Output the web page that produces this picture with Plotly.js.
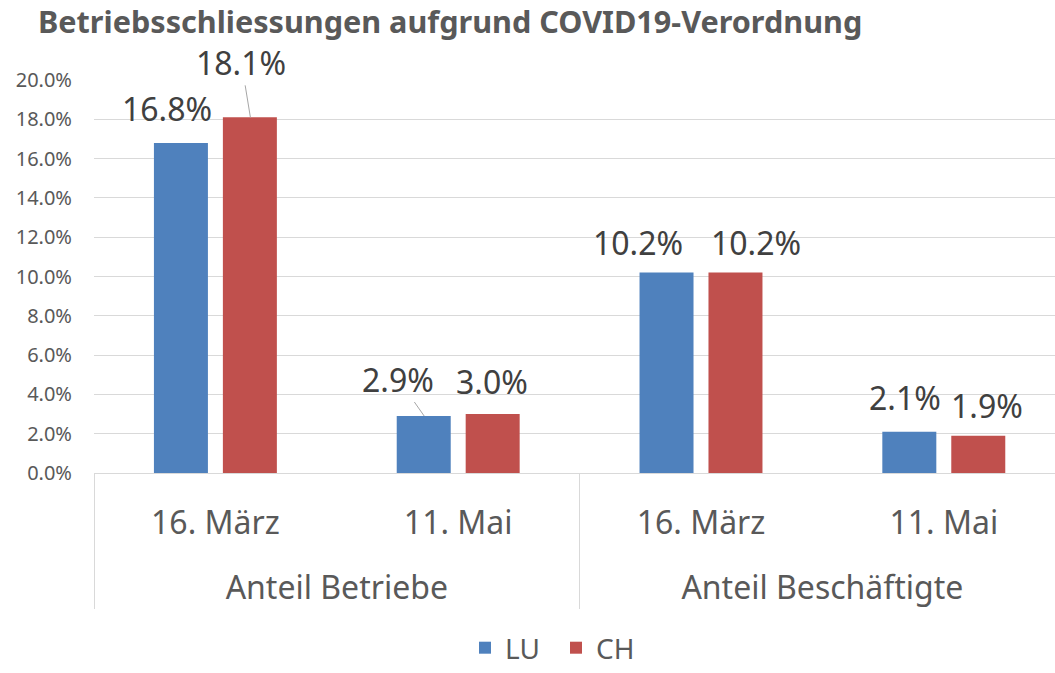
<!DOCTYPE html>
<html>
<head>
<meta charset="utf-8">
<script src="https://cdn.plot.ly/plotly-3.0.1.min.js"></script>
<style>html,body{margin:0;padding:0;background:#fff;}#chart{width:1055px;height:673px;}</style>
</head>
<body>
<div id="chart"></div>
<script>
const groups = ["Anteil Betriebe", "Anteil Betriebe", "Anteil Beschäftigte", "Anteil Beschäftigte"];
const dates = ["16. März", "11. Mai", "16. März", "11. Mai"];
const seriesNames = ["LU", "CH"];
const luValues = [0.168, 0.029, 0.102, 0.021];
const chValues = [0.181, 0.030, 0.102, 0.019];
const colors = ["#4F81BD", "#C0504D"];
const yTicks = [0, 0.02, 0.04, 0.06, 0.08, 0.10, 0.12, 0.14, 0.16, 0.18, 0.20];

const FONT = "Noto Sans, sans-serif";
// inner labels get an empty second line so the group row sits lower, as in the original
const innerLabels = dates.map(d => d + "<br>\u00a0");
const mk = (name, vals, color) => ({
  type: "bar",
  name: name,
  x: [groups, innerLabels],
  y: vals,
  marker: {color: color},
  hoverinfo: "skip"
});

const data = [mk(seriesNames[0], luValues, colors[0]), mk(seriesNames[1], chValues, colors[1])];

// label placement (pixel offsets, Excel-like manual positions)
const lblStyle = {
  lu: [ {dx: -48, dy: 34}, {dx: -34, arrow: true, ax: -26, ay: -37}, {dx: -63, dy: 30}, {dx: -39, dy: 34} ],
  ch: [ {dx: 35, arrow: true, ax: -9, ay: -55}, {dx: 33.5, dy: 33}, {dx: 55, dy: 30}, {dx: 43.5, dy: 30} ]
};
const annotations = [];
[[luValues, lblStyle.lu], [chValues, lblStyle.ch]].forEach(([vals, st]) => {
  vals.forEach((v, i) => {
    const s = st[i];
    const a = {
      xref: "x", yref: "y", x: i, y: v,
      text: (v * 100).toFixed(1) + "%",
      font: {family: FONT, size: 32, color: "#404040"},
      xshift: s.dx
    };
    if (s.arrow) {
      Object.assign(a, {showarrow: true, arrowhead: 0, arrowwidth: 1, arrowcolor: "#a6a6a6",
        ax: s.ax, ay: s.ay, standoff: 0});
    } else {
      Object.assign(a, {showarrow: false, yshift: s.dy, yanchor: "middle", xanchor: "center"});
    }
    annotations.push(a);
  });
});

const layout = {
  width: 1055, height: 673,
  margin: {l: 94, r: 0, t: 80, b: 200},
  paper_bgcolor: "#fff", plot_bgcolor: "#fff",
  font: {family: FONT, color: "#595959"},
  title: {
    text: "<b>Betriebsschliessungen aufgrund COVID19-Verordnung</b>",
    font: {family: FONT, size: 30.6, color: "#595959"},
    xref: "container", x: 0.036, xanchor: "left",
    yref: "container", y: 0.967, yanchor: "middle"
  },
  bargap: 0.432,
  bargroupgap: 0.217,
  barmode: "group",
  xaxis: {
    type: "multicategory",
    range: [-0.5, 3.458],
    showline: true, linecolor: "#d9d9d9", linewidth: 1,
    showdividers: true, dividercolor: "#d9d9d9", dividerwidth: 1,
    tickfont: {family: FONT, size: 32, color: "#595959"},
    ticks: "",
    ticklabelstandoff: 22,
    showgrid: false
  },
  yaxis: {
    range: [0, 0.2],
    tickvals: yTicks,
    tickformat: ".1%",
    tickfont: {family: FONT, size: 20, color: "#595959"},
    showgrid: true, gridcolor: "#d9d9d9", gridwidth: 1,
    zeroline: false, showline: false, ticks: "",
    ticklabelstandoff: 21
  },
  annotations: annotations,
  legend: {
    orientation: "h",
    xref: "container", x: 0.527, xanchor: "center",
    yref: "container", y: 0, yanchor: "bottom",
    font: {family: FONT, size: 28, color: "#595959"},
    entrywidth: 46
  },
  showlegend: true
};

Plotly.newPlot("chart", data, layout, {displayModeBar: false, staticPlot: true});
</script>
</body>
</html>
